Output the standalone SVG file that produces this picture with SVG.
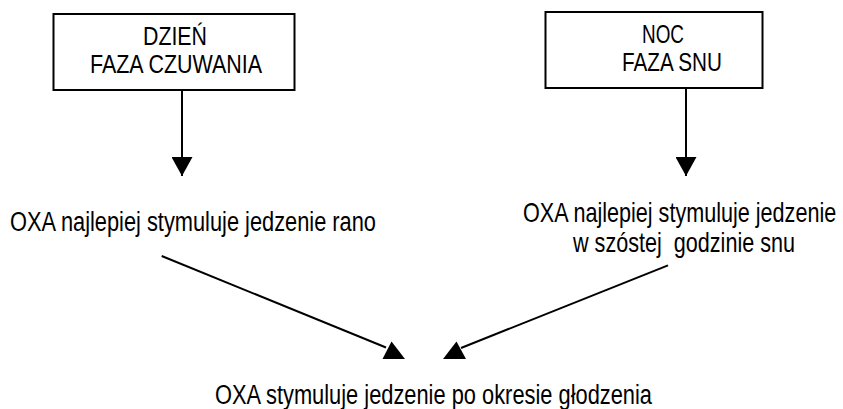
<svg xmlns="http://www.w3.org/2000/svg" width="843" height="409" viewBox="0 0 843 409">
  <style>
    .box { fill: #ffffff; stroke: #000000; stroke-width: 2; }
    .t { font-family: "Liberation Sans", Arial, sans-serif; fill: #000000; }
    .bt { font-size: 26px; }
    .lt { font-size: 27px; }
    .ln { stroke: #000000; stroke-width: 2; fill: none; }
    .hd { fill: #000000; stroke: none; }
  </style>
  <defs>
    <marker id="down" markerUnits="userSpaceOnUse" viewBox="0 0 19 21" markerWidth="19" markerHeight="21" refX="19" refY="10.5" orient="auto">
      <path d="M0,0 L19,10.5 L0,21 Z" fill="#000000"/>
    </marker>
  </defs>
  <rect width="843" height="409" fill="#ffffff"/>

  <g id="node-dzien">
    <rect class="box" x="53.5" y="14" width="241" height="76"/>
    <text class="t bt" x="175" y="45" text-anchor="middle" textLength="64" lengthAdjust="spacingAndGlyphs">DZIEŃ</text>
    <text class="t bt" x="176" y="73" text-anchor="middle" textLength="172" lengthAdjust="spacingAndGlyphs">FAZA CZUWANIA</text>
  </g>

  <g id="node-noc">
    <rect class="box" x="545.5" y="12" width="217" height="76"/>
    <text class="t bt" x="663" y="43" text-anchor="middle" textLength="42" lengthAdjust="spacingAndGlyphs">NOC</text>
    <text class="t bt" x="672" y="71" text-anchor="middle" textLength="100" lengthAdjust="spacingAndGlyphs">FAZA SNU</text>
  </g>

  <g id="node-rano">
    <text class="t lt" x="10" y="231" textLength="366" lengthAdjust="spacingAndGlyphs">OXA najlepiej stymuluje jedzenie rano</text>
  </g>

  <g id="node-sen">
    <text class="t lt" transform="translate(523,222) scale(0.8,1)" x="0" y="0">OXA najlepiej stymuluje jedzenie</text>
    <text class="t lt" transform="translate(573,252) scale(0.8,1)" x="0" y="0" xml:space="preserve">w szóstej  godzinie snu</text>
  </g>

  <g id="node-glodzenie">
    <text class="t lt" x="215" y="404" textLength="437" lengthAdjust="spacingAndGlyphs">OXA stymuluje jedzenie po okresie głodzenia</text>
  </g>

  <g id="connectors">
    <line class="ln" x1="182" y1="90" x2="182" y2="176" marker-end="url(#down)"/>
    <line class="ln" x1="686" y1="88" x2="686" y2="176" marker-end="url(#down)"/>
    <line class="ln" x1="161.7" y1="256" x2="386" y2="347.5"/>
    <polygon class="hd" points="382.5,359 391.5,341.5 405,359"/>
    <line class="ln" x1="668" y1="265.4" x2="461" y2="348"/>
    <polygon class="hd" points="443,359 456.5,341.5 466,359"/>
  </g>
</svg>
